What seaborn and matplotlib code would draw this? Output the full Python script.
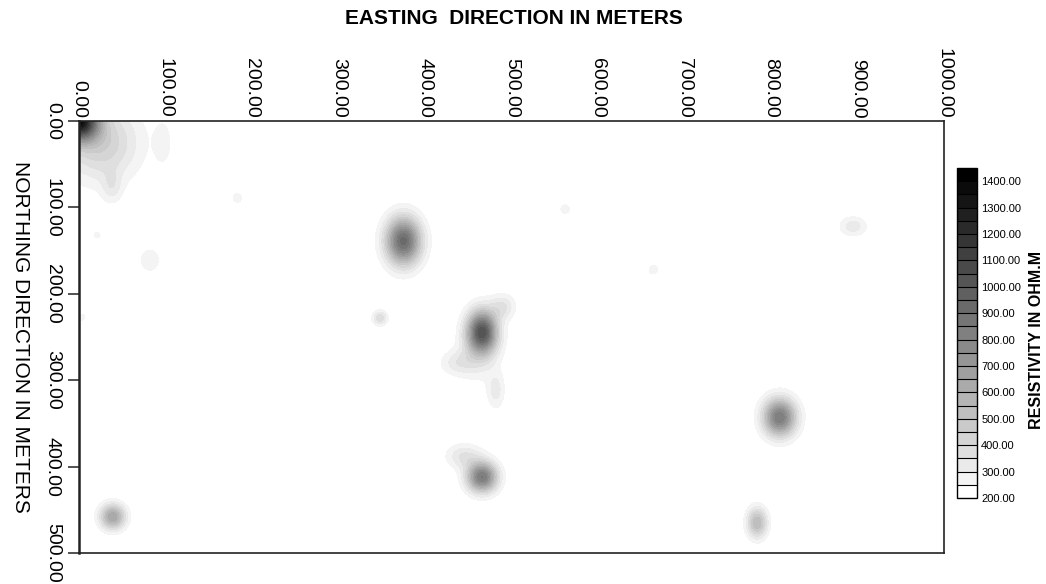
import numpy as np
import matplotlib
matplotlib.use("Agg")
import matplotlib.pyplot as plt
import seaborn as sns
from matplotlib.colors import ListedColormap, BoundaryNorm

# ---------------- data ----------------
easting_ticks = [0, 100, 200, 300, 400, 500, 600, 700, 800, 900, 1000]
northing_ticks = [0, 100, 200, 300, 400, 500]
colorbar_ticks = [200, 300, 400, 500, 600, 700, 800, 900, 1000, 1100, 1200, 1300, 1400]
level_bounds = [200, 250, 300, 350, 400, 450, 500, 550, 600, 650, 700, 750, 800,
                850, 900, 950, 1000, 1050, 1100, 1150, 1200, 1250, 1300, 1350, 1400, 1450]

background_resistivity = 200
# resistivity anomalies: centre (easting, northing), peak value, spread (m)
anomaly_east = [0, 25, 38, 97, 82, 21, 183, 375, 466, 490, 438, 482, 462, 348,
                810, 784, 39, 466, 445, 895, 562, 664, 3]
anomaly_north = [0, 25, 76, 25, 161, 132, 89, 139, 244, 215, 280, 312, 270, 228,
                 343, 465, 458, 412, 388, 122, 102, 172, 227]
anomaly_peak = [1250, 450, 300, 280, 280, 270, 270, 920, 1000, 350, 320, 320, 300, 390,
                850, 550, 650, 850, 350, 330, 270, 270, 260]
anomaly_sx = [15, 30, 8, 7, 10, 4, 6, 14, 12, 10, 14, 7, 16, 6,
              13, 8, 10, 12, 14, 11, 6, 6, 6]
anomaly_sy = [15, 30, 13, 18, 12, 4, 6, 19, 17, 10, 10, 15, 22, 6,
              15, 12, 10, 12, 10, 8, 6, 6, 6]

# ---------------- build the field ----------------
east = np.linspace(0, 1000, 501)
north = np.linspace(0, 500, 251)
E, N = np.meshgrid(east, north)
Z = np.full_like(E, float(background_resistivity))
for ex, ny, pk, sx, sy in zip(anomaly_east, anomaly_north, anomaly_peak, anomaly_sx, anomaly_sy):
    Z += (pk - background_resistivity) * np.exp(-(((E - ex) / sx) ** 2 + ((N - ny) / sy) ** 2) / 2)
Z = np.clip(Z, 200.5, 1449)

# ---------------- style ----------------
sns.set_theme(style="white")
plt.rcParams['font.family'] = ['Liberation Sans', 'DejaVu Sans']
for k in ["text.color", "axes.labelcolor", "xtick.color", "ytick.color", "axes.edgecolor"]:
    plt.rcParams[k] = "black"

nlev = len(level_bounds) - 1
greys = [str(1 - i / (nlev - 1)) for i in range(nlev)]
cmap = ListedColormap(greys)
norm = BoundaryNorm(level_bounds, cmap.N)

fig = plt.figure(figsize=(10.46, 5.84), dpi=100)
fig.patch.set_facecolor("white")
ax = fig.add_axes([0.0755, 0.0531, 0.827, 0.7397])
cs = ax.contourf(E, N, Z, levels=level_bounds, cmap=cmap, norm=norm)

ax.set_xlim(0, 1000)
ax.set_ylim(500, 0)
ax.xaxis.tick_top()
ax.set_xticks(easting_ticks)
ax.set_yticks(northing_ticks)
ax.set_xticklabels([f"{v:.2f}" for v in easting_ticks], rotation=270, fontsize=14,
                   ha="center", va="bottom")
ax.set_yticklabels([f"{v:.2f}" for v in northing_ticks], rotation=270, fontsize=14,
                   ha="right", va="center")
ax.tick_params(axis="x", which="both", length=0, pad=2, top=True, bottom=False)
ax.tick_params(axis="y", which="both", length=8, width=1.2, direction="out",
               left=True, pad=5, color="#333333")
for s in ax.spines.values():
    s.set_color("#222222")
    s.set_linewidth(1.2)
ax.spines["left"].set_linewidth(1.8)
ax.set_facecolor("white")

fig.text(0.491, 0.969, "EASTING  DIRECTION IN METERS", ha="center", va="center",
         fontsize=15, fontweight="bold")
fig.text(20 / 1046, 1 - 337 / 584, "NORTHING DIRECTION IN METERS", rotation=270,
         ha="center", va="center", fontsize=15)

cax = fig.add_axes([0.915, 0.1473, 0.019, 0.565])
cb = fig.colorbar(cs, cax=cax, ticks=colorbar_ticks, drawedges=True)
cb.ax.minorticks_off()
cb.ax.set_yticklabels([f"{v:.2f}" for v in colorbar_ticks], fontsize=8)
cb.ax.tick_params(which="both", length=0, pad=3)
cb.outline.set_linewidth(1.0)
cb.outline.set_edgecolor("black")
cb.dividers.set_color("black")
cb.dividers.set_linewidth(0.8)
cb.set_label("RESISTIVITY IN OHM.M", rotation=90, fontsize=11.5, fontweight="bold")
cb.ax.yaxis.set_label_coords(3.6, 0.48)

fig.savefig("out.png", dpi=100, facecolor="white")
